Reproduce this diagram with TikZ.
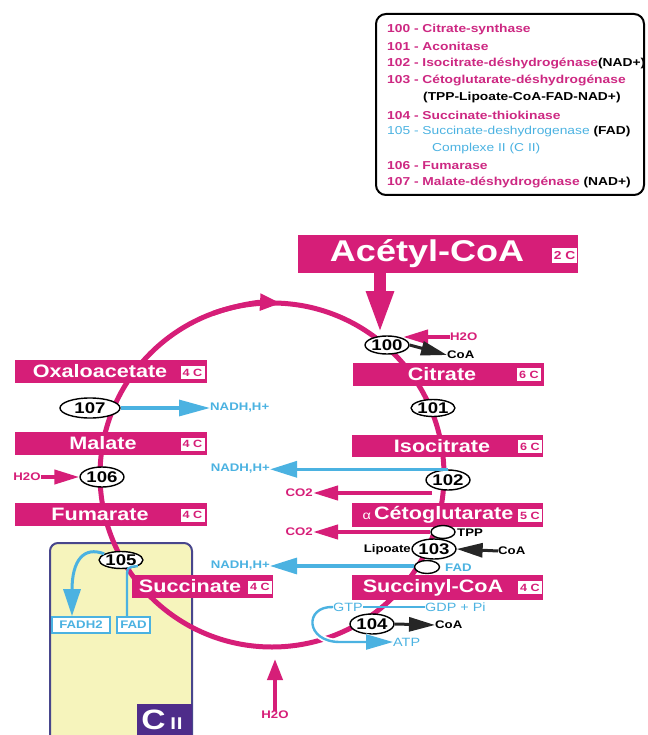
\documentclass[tikz,border=0pt]{standalone}
\usepackage{fontspec}
\setmainfont[FakeStretch=1.2]{Liberation Sans}
\usetikzlibrary{arrows.meta,shapes.geometric}
\definecolor{pk}{RGB}{214,30,120}
\definecolor{lpk}{RGB}{205,40,130}
\definecolor{cy}{RGB}{75,178,225}
\definecolor{cpur}{RGB}{78,44,138}
\definecolor{cyel}{RGB}{246,244,188}
\definecolor{cbord}{RGB}{72,70,140}
\newcommand\fsm{\fontsize{11}{12}\selectfont\bfseries}
\newcommand\fleg{\fontsize{11.5}{13}\selectfont\bfseries}
\begin{document}
\begin{tikzpicture}[x=1pt,y=-1pt,
  subbox/.style={fill=pk, draw=none, inner sep=0},
  sublbl/.style={text=white, inner sep=0, font=\fontsize{18}{20}\selectfont\bfseries},
  nc/.style={fill=white, text=pk, inner sep=0, minimum width=24, minimum height=13, font=\fontsize{10.5}{10.5}\selectfont\bfseries},
  enz/.style={ellipse, draw=black, line width=1.4, fill=white, inner sep=0, font=\fontsize{15.5}{15.5}\selectfont\bfseries},
  blob/.style={ellipse, draw=black, line width=1.4, fill=white, inner sep=0},
  pksm/.style={text=pk, inner sep=0, font=\fsm},
  cysm/.style={text=cy, inner sep=0, font=\fsm},
  cyth/.style={text=cy, inner sep=0, font=\fontsize{12}{12}\selectfont},
  bksm/.style={text=black, inner sep=0, font=\fsm},
  pka/.style={draw=pk, line width=4, -{Triangle[length=25pt,width=14pt]}},
  cya/.style={draw=cy, line width=3.2, -{Triangle[length=27pt,width=16pt]}},
  bka/.style={draw=black!85, line width=3, -{Triangle[length=26pt,width=14pt]}},
  circ/.style={draw=pk, line width=5},
  legl/.style={anchor=west, inner sep=0, font=\fleg},
  cybox/.style={draw=cy, line width=1.6, fill=white, text=cy, inner sep=0, minimum height=16, font=\fsm}]
\useasboundingbox (0,0) rectangle (647,735);

% legend
\draw[line width=2, rounded corners=10] (376,14) rectangle (644,195);
\node[legl, text=lpk] (l100) at (387,30) {100 - Citrate-synthase};
\node[legl, text=lpk] (l101) at (387,46.5) {101 - Aconitase};
\node[legl, text=lpk] (l102) at (387,63.5) {102 - Isocitrate-déshydrogénase\textcolor{black}{(NAD+)}};
\node[legl, text=lpk] (l103) at (387,81) {103 - Cétoglutarate-déshydrogénase};
\node[legl, text=black] (l103b) at (423,98) {(TPP-Lipoate-CoA-FAD-NAD+)};
\node[legl, text=lpk] (l104) at (387,115) {104 - Succinate-thiokinase};
\node[legl, text=cy] (l105) at (387,132) {\mdseries 105 - Succinate-deshydrogenase \textcolor{black}{\bfseries(FAD)}};
\node[legl, text=cy] (l105b) at (432,148.5) {\mdseries Complexe II (C II)};
\node[legl, text=lpk] (l106) at (387,166) {106 - Fumarase};
\node[legl, text=lpk] (l107) at (387,183) {107 - Malate-déshydrogénase \textcolor{black}{(NAD+)}};

% complex II
\draw[draw=cbord, line width=2, fill=cyel, rounded corners=8] (50,543) rectangle (192,750);
\node[fill=cpur, inner sep=0, minimum width=55, minimum height=34] (ciibox) at (164.5,721) {};
\node[text=white, inner sep=0, anchor=base] (ciilbl) at (162,729) {\fontsize{28}{28}\selectfont\bfseries C\,\fontsize{17}{17}\selectfont I\kern1ptI};

% cycle
\draw[circ] (272,475) circle[radius=172];
\draw[circ, -{Triangle[length=21pt,width=16pt]}] (272,475) ++(250:172) arc[start angle=250, end angle=273, radius=172];

% Acetyl-CoA
\node[subbox, minimum width=280, minimum height=38] (acbox) at (438,254) {};
\node[text=white, inner sep=0, font=\fontsize{30}{30}\selectfont\bfseries] (aclbl) at (427,254) {Acétyl-CoA};
\node[nc, minimum width=25, minimum height=15, font=\fontsize{11.5}{11.5}\selectfont\bfseries] (ac2c) at (564.5,255.5) {2 C};

% substrate boxes
\node[subbox, minimum width=192, minimum height=23] (oxa) at (111,371.5) {};
\node[sublbl] (oxal) at (100,371.5) {Oxaloacetate};
\node[nc] (oxac) at (192.5,372.5) {4 C};
\node[subbox, minimum width=192, minimum height=23] (mal) at (111,443.5) {};
\node[sublbl] (mall) at (103,443.5) {Malate};
\node[nc] (malc) at (192.5,444) {4 C};
\node[subbox, minimum width=192, minimum height=23] (fum) at (111,514.5) {};
\node[sublbl] (fuml) at (100,514.5) {Fumarate};
\node[nc] (fumc) at (192.5,515) {4 C};
\node[subbox, minimum width=191, minimum height=23] (cit) at (448.5,374) {};
\node[sublbl] (citl) at (442,374) {Citrate};
\node[nc] (citc) at (529,374.5) {6 C};
\node[subbox, minimum width=191, minimum height=22] (iso) at (447.5,446) {};
\node[sublbl] (isol) at (442,446) {Isocitrate};
\node[nc] (isoc) at (530,446.5) {6 C};
\node[subbox, minimum width=191, minimum height=24] (ceto) at (447.5,515) {};
\node[sublbl] (cetol) at (438,515) {{\fontsize{12}{12}\selectfont\mdseries α}\,Cétoglutarate};
\node[nc] (cetoc) at (530,515.5) {5 C};
\node[subbox, minimum width=191, minimum height=25] (scoa) at (447.5,587.5) {};
\node[sublbl] (scoal) at (433,587.5) {Succinyl-CoA};
\node[nc] (scoac) at (530,587.5) {4 C};
\node[subbox, minimum width=141, minimum height=23] (succ) at (202.5,586.5) {};
\node[sublbl] (succl) at (190,586.5) {Succinate};
\node[nc] (succc) at (260,587) {4 C};

% Acetyl-CoA arrow
\draw[draw=pk, line width=12, -{Triangle[length=43pt,width=25pt]}] (380,273) -- (380,334);
\node[enz, minimum width=38, minimum height=18] (e100) at (387,345) {100};
\node[pksm, anchor=west] (h2oA) at (450,337) {H2O};
\draw[pka] (h2oA.west) -- (h2oA.west -| e100.north east);
\node[bksm, anchor=west] (coaA) at (447,355) {CoA};
\draw[bka] (e100.east) -- (coaA.west);

\node[enz, minimum width=40, minimum height=17] (e101) at (433,408) {101};

% 102
\node[enz, minimum width=43, minimum height=20] (e102) at (448,480) {102};
\node[cysm, anchor=east] (nadh2) at (270,469) {NADH,H+};
\draw[cya] (e102.north) -- (e102.north -| nadh2.east);
\node[pksm, anchor=east] (co2a) at (313,493) {CO2};
\draw[pka] (e102.south west |- co2a) -- (co2a.east);

% 103
\node[blob, minimum width=24, minimum height=13] (tpp) at (443,532) {};
\node[blob, minimum width=25, minimum height=13] (fadb) at (427,567) {};
\node[enz, minimum width=42, minimum height=20] (e103) at (434,549) {103};
\node[bksm, anchor=west] (tppl) at (457,533) {TPP};
\node[bksm, anchor=east] (lip) at (411,550) {Lipoate};
\node[bksm, anchor=west] (coaC) at (498,551) {CoA};
\draw[bka] (coaC.west) -- (e103.east);
\node[cysm, anchor=west] (fadl) at (445,568) {FAD};
\node[pksm, anchor=east] (co2b) at (313,532) {CO2};
\draw[pka] (tpp.west |- co2b) -- (co2b.east);
\node[cysm, anchor=east] (nadh3) at (270,566) {NADH,H+};
\draw[cya] (fadb.west |- nadh3) -- (nadh3.east);

% 104
\node[cyth, anchor=center] (gtp) at (348,607) {GTP};
\node[cyth, anchor=west] (gdp) at (425,607) {GDP + Pi};
\draw[draw=cy, line width=1.4] (gtp.east) -- (gdp.west);
\node[enz, minimum width=44, minimum height=20] (e104) at (372,624) {104};
\node[bksm, anchor=west] (coaD) at (435,625) {CoA};
\draw[bka] (e104.east) -- (coaD.west);
\node[cyth, anchor=west] (atp) at (393,642) {ATP};
\draw[draw=cy, line width=2.4, preaction={draw=white, line width=6}, -{Triangle[length=27pt,width=15pt]}] (gtp.west) .. controls (304,606) and (305,642) .. (340,642) -- (atp.west);

% 105
\node[enz, minimum width=40, minimum height=17] (e105) at (121,560) {105};
\node[cybox, minimum width=58] (fadh2) at (81,625) {FADH2};
\node[cybox, minimum width=33] (fadbox) at (133.5,625) {FAD};
\draw[draw=cy, line width=3, -{Triangle[length=27pt,width=17pt]}] (e105.160) .. controls (84,546) and (72,560) .. ([xshift=-9pt]fadh2.north);
\draw[draw=cy, line width=2.4] (e105.-20) .. controls (127,567) .. (127,580) -- ([xshift=-6.5pt]fadbox.north);

% 106, 107
\node[enz, minimum width=42, minimum height=20] (e106) at (102,477) {106};
\node[pksm] (h2oB) at (27,477) {H2O};
\draw[pka] (h2oB.east) -- (e106.west);
\node[enz, minimum width=60, minimum height=20] (e107) at (90,408) {107};
\node[cysm, anchor=west] (nadh1) at (210,408) {NADH,H+};
\draw[cya, -{Triangle[length=31pt,width=16pt]}] (e107.east) -- (nadh1.west);

% bottom H2O
\node[pksm] (h2oC) at (275,715) {H2O};
\coordinate (tipC) at (275,659);
\draw[pka, -{Triangle[length=21pt,width=15pt]}] (h2oC.north) -- (tipC);
\end{tikzpicture}
\end{document}
